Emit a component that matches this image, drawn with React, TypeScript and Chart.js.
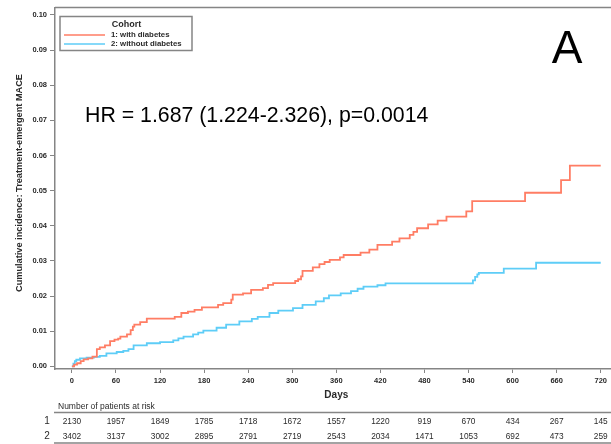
import React, { useEffect, useRef } from "react";
import { Chart, registerables } from "chart.js";

Chart.register(...registerables);

// ---- Data ----
const cohortLabels = ["1: with diabetes", "2: without diabetes"];
const seriesColors = ["#FF7D64", "#5ECDF7"];

const diabetesDays = [0, 3, 7, 12, 16, 22, 28, 34, 38, 45, 52, 58, 63, 66, 75, 80, 83, 85, 93, 102, 140, 149, 158, 167, 177, 199, 206, 217, 219, 233, 244, 260, 267, 274, 304, 308, 312, 314, 328, 337, 344, 351, 365, 370, 393, 405, 416, 436, 446, 460, 465, 470, 485, 498, 510, 537, 545, 617, 666, 678, 720];
const diabetesValues = [0, 0.0005, 0.0009, 0.0015, 0.002, 0.0023, 0.0028, 0.0049, 0.0054, 0.006, 0.0072, 0.0076, 0.0079, 0.0085, 0.0091, 0.0103, 0.0113, 0.0119, 0.0126, 0.0136, 0.0141, 0.0152, 0.0156, 0.0161, 0.0168, 0.0175, 0.018, 0.019, 0.0204, 0.0208, 0.0218, 0.0223, 0.0232, 0.0237, 0.0243, 0.0248, 0.0256, 0.0272, 0.0282, 0.0291, 0.0297, 0.0303, 0.031, 0.0317, 0.0324, 0.0332, 0.0346, 0.0355, 0.0364, 0.0374, 0.0383, 0.0393, 0.0404, 0.0415, 0.0426, 0.0441, 0.047, 0.0494, 0.053, 0.0571, 0.0571];

const noDiabetesDays = [0, 2, 4, 6, 11, 20, 30, 38, 47, 61, 70, 77, 84, 102, 120, 138, 145, 152, 165, 172, 179, 197, 210, 228, 245, 253, 269, 281, 301, 314, 332, 343, 350, 366, 380, 389, 397, 416, 427, 546, 549, 552, 554, 588, 632, 720];
const noDiabetesValues = [0, 0.0008, 0.0015, 0.0019, 0.0023, 0.0025, 0.0027, 0.003, 0.0037, 0.0041, 0.0044, 0.0049, 0.006, 0.0066, 0.0069, 0.0074, 0.008, 0.0085, 0.0091, 0.0096, 0.0102, 0.011, 0.0119, 0.0128, 0.0135, 0.0141, 0.0152, 0.0159, 0.0166, 0.0175, 0.0185, 0.0194, 0.0202, 0.0208, 0.0214, 0.0221, 0.0227, 0.0231, 0.0236, 0.0245, 0.0255, 0.0262, 0.0266, 0.0278, 0.0295, 0.0295];

const xTicks = [0, 60, 120, 180, 240, 300, 360, 420, 480, 540, 600, 660, 720];
const yTicks = [0, 0.01, 0.02, 0.03, 0.04, 0.05, 0.06, 0.07, 0.08, 0.09, 0.1];

const atRiskDiabetes = [2130, 1957, 1849, 1785, 1718, 1672, 1557, 1220, 919, 670, 434, 267, 145];
const atRiskNoDiabetes = [3402, 3137, 3002, 2895, 2791, 2719, 2543, 2034, 1471, 1053, 692, 473, 259];

const hrText = "HR = 1.687 (1.224-2.326), p=0.0014";
const panelLetter = "A";
const yTitle = "Cumulative incidence: Treatment-emergent MACE";
const xTitle = "Days";
const legendTitle = "Cohort";
const riskTitle = "Number of patients at risk";

const FONT = "'Liberation Sans', Arial, sans-serif";
const AXIS_COLOR = "#858585";
const TEXT_COLOR = "#2a2a2a";

const overlayPlugin = {
  id: "overlay",
  afterDraw(chart: any) {
    const { ctx, chartArea, scales } = chart;
    const xs = scales.x;
    const W = chart.width;
    ctx.save();

    // top frame line
    ctx.strokeStyle = AXIS_COLOR;
    ctx.lineWidth = 1.5;
    ctx.beginPath();
    ctx.moveTo(chartArea.left, chartArea.top);
    ctx.lineTo(W, chartArea.top);
    ctx.stroke();

    // legend box
    ctx.strokeStyle = AXIS_COLOR;
    ctx.lineWidth = 1.5;
    ctx.strokeRect(60, 16.5, 132, 34);
    ctx.fillStyle = TEXT_COLOR;
    ctx.textBaseline = "middle";
    ctx.textAlign = "center";
    ctx.font = `bold 9px ${FONT}`;
    ctx.fillText(legendTitle, 126.5, 25);
    ctx.textAlign = "left";
    ctx.font = `bold 7.8px ${FONT}`;
    const ly = [35, 44];
    for (let i = 0; i < 2; i++) {
      ctx.strokeStyle = seriesColors[i];
      ctx.lineWidth = 1.5;
      ctx.beginPath();
      ctx.moveTo(64, ly[i]);
      ctx.lineTo(105, ly[i]);
      ctx.stroke();
      ctx.fillStyle = TEXT_COLOR;
      ctx.fillText(cohortLabels[i], 111, ly[i]);
    }

    // HR annotation
    ctx.fillStyle = "#000";
    ctx.font = `21.3px ${FONT}`;
    ctx.textAlign = "left";
    ctx.textBaseline = "alphabetic";
    ctx.fillText(hrText, 85, 122);

    // panel letter
    ctx.font = `46px ${FONT}`;
    ctx.textAlign = "center";
    ctx.fillText(panelLetter, 567, 63);

    // y title
    ctx.save();
    ctx.translate(19, 183);
    ctx.rotate(-Math.PI / 2);
    ctx.font = `bold 9.2px ${FONT}`;
    ctx.fillStyle = TEXT_COLOR;
    ctx.textAlign = "center";
    ctx.textBaseline = "middle";
    ctx.fillText(yTitle, 0, 0);
    ctx.restore();

    // x title
    ctx.font = `bold 10px ${FONT}`;
    ctx.fillStyle = TEXT_COLOR;
    ctx.textAlign = "center";
    ctx.textBaseline = "middle";
    ctx.fillText(xTitle, xs.getPixelForValue(360), 395);

    // risk table
    ctx.font = `8.5px ${FONT}`;
    ctx.textAlign = "left";
    ctx.fillText(riskTitle, 58, 406.5);
    ctx.strokeStyle = AXIS_COLOR;
    ctx.lineWidth = 1.5;
    ctx.beginPath();
    ctx.moveTo(54, 412.5);
    ctx.lineTo(W, 412.5);
    ctx.moveTo(54, 443);
    ctx.lineTo(W, 443);
    ctx.stroke();

    ctx.font = `10px ${FONT}`;
    ctx.textAlign = "center";
    ctx.fillText("1", 47, 421.5);
    ctx.fillText("2", 47, 436.5);
    ctx.font = `8.3px ${FONT}`;
    xTicks.forEach((d, i) => {
      const px = xs.getPixelForValue(d);
      ctx.fillText(String(atRiskDiabetes[i]), px, 421.5);
      ctx.fillText(String(atRiskNoDiabetes[i]), px, 436.5);
    });

    ctx.restore();
  },
};

export default function App() {
  const canvasRef = useRef<HTMLCanvasElement | null>(null);

  useEffect(() => {
    document.body.style.margin = "0";
    const canvas = canvasRef.current;
    if (!canvas) return;
    Chart.defaults.font.family = FONT;

    const chart = new Chart(canvas, {
      type: "line",
      data: {
        datasets: [
          {
            label: cohortLabels[0],
            data: diabetesDays.map((d, i) => ({ x: d, y: diabetesValues[i] })),
            borderColor: seriesColors[0],
            backgroundColor: seriesColors[0],
            borderWidth: 1.8,
            stepped: true,
            pointRadius: 0,
            fill: false,
          },
          {
            label: cohortLabels[1],
            data: noDiabetesDays.map((d, i) => ({ x: d, y: noDiabetesValues[i] })),
            borderColor: seriesColors[1],
            backgroundColor: seriesColors[1],
            borderWidth: 1.8,
            stepped: true,
            pointRadius: 0,
            fill: false,
          },
        ],
      },
      options: {
        responsive: false,
        animation: false,
        events: [],
        layout: { padding: { top: 5, left: 0, right: 0, bottom: 0 } },
        plugins: {
          legend: { display: false },
          tooltip: { enabled: false },
          title: { display: false },
        },
        scales: {
          x: {
            type: "linear",
            min: -23,
            max: 734,
            afterBuildTicks: (s: any) => {
              s.ticks = xTicks.map((v) => ({ value: v }));
            },
            afterFit: (s: any) => {
              s.height = 75;
            },
            grid: {
              drawOnChartArea: false,
              drawTicks: true,
              tickLength: 4,
              tickColor: AXIS_COLOR,
              tickWidth: 1,
            },
            border: { display: true, color: AXIS_COLOR, width: 1.5 },
            ticks: {
              autoSkip: false,
              maxRotation: 0,
              padding: 3,
              color: TEXT_COLOR,
              font: { size: 7.5, weight: "bold", family: FONT },
              callback: (v: any) => String(v),
            },
          },
          y: {
            type: "linear",
            min: -0.00073,
            max: 0.1021,
            afterBuildTicks: (s: any) => {
              s.ticks = yTicks.map((v) => ({ value: v }));
            },
            afterFit: (s: any) => {
              s.width = 55;
            },
            grid: {
              drawOnChartArea: false,
              drawTicks: true,
              tickLength: 5,
              tickColor: AXIS_COLOR,
              tickWidth: 1,
            },
            border: { display: true, color: AXIS_COLOR, width: 1.5 },
            ticks: {
              autoSkip: false,
              padding: 3,
              color: TEXT_COLOR,
              font: { size: 7.5, weight: "bold", family: FONT },
              callback: (v: any) => Number(v).toFixed(2),
            },
          },
        },
      },
      plugins: [overlayPlugin],
    });

    return () => chart.destroy();
  }, []);

  return (
    <div style={{ position: "fixed", left: 0, top: 0, width: 611, height: 444, background: "#fff" }}>
      <canvas ref={canvasRef} width={611} height={444} style={{ width: 611, height: 444, display: "block" }} />
    </div>
  );
}
